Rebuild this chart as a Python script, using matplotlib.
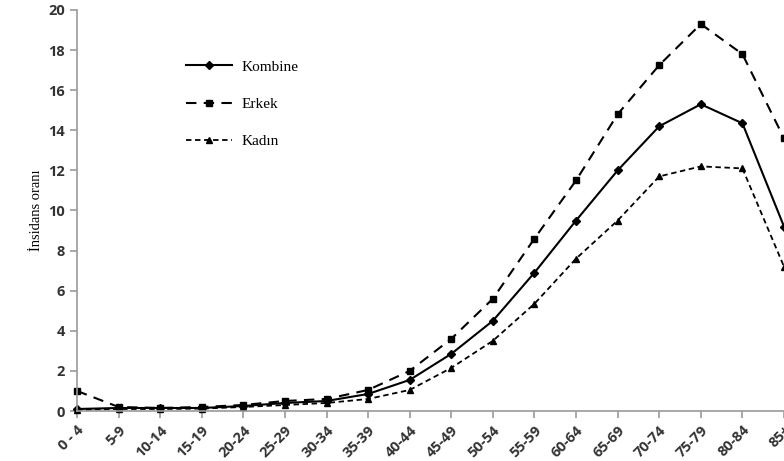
import matplotlib
matplotlib.use("Agg")
import matplotlib.pyplot as plt

age_groups = ["0 - 4", "5-9", "10-14", "15-19", "20-24", "25-29", "30-34", "35-39",
              "40-44", "45-49", "50-54", "55-59", "60-64", "65-69", "70-74", "75-79",
              "80-84", "85+"]
kombine = [0.1, 0.15, 0.15, 0.15, 0.25, 0.4, 0.5, 0.85, 1.55, 2.85, 4.5, 6.9,
           9.5, 12.0, 14.2, 15.3, 14.35, 9.2]
erkek = [1.0, 0.2, 0.15, 0.2, 0.3, 0.5, 0.6, 1.05, 2.0, 3.6, 5.6, 8.6,
         11.5, 14.8, 17.25, 19.3, 17.8, 13.6]
kadin = [0.05, 0.1, 0.1, 0.12, 0.2, 0.3, 0.4, 0.6, 1.05, 2.15, 3.5, 5.35,
         7.6, 9.5, 11.7, 12.2, 12.1, 7.2]

fig = plt.figure(figsize=(7.84, 4.61), dpi=100)
ax = fig.add_axes([77 / 784, 50 / 461, 707 / 784, 401 / 461])

x = list(range(len(age_groups)))
ax.plot(x, kombine, color="black", lw=1.5, marker="D", ms=4, label="Kombine", clip_on=False)
ax.plot(x, erkek, color="black", lw=1.5, ls=(0, (5, 3.5)), marker="s", ms=5, label="Erkek", clip_on=False)
ax.plot(x, kadin, color="black", lw=1.3, ls=(0, (3, 2)), marker="^", ms=5, label="Kadın", clip_on=False)

ax.set_xlim(0, 17)
ax.set_ylim(0, 20)
ax.set_yticks(range(0, 21, 2))
ax.set_xticks(x)
ax.set_xticklabels(age_groups, rotation=45, ha="right", rotation_mode="anchor")

for s in ["top", "right"]:
    ax.spines[s].set_visible(False)
for s in ["left", "bottom"]:
    ax.spines[s].set_color("#999999")
    ax.spines[s].set_linewidth(1.2)
ax.tick_params(axis="both", direction="out", length=5, color="#999999", width=1.2,
               labelsize=10.5, labelcolor="#333333")
for lab in ax.get_xticklabels() + ax.get_yticklabels():
    lab.set_fontweight("bold")
    lab.set_family("Open Sans")

ax.set_ylabel("İnsidans oranı", family="Liberation Serif", fontsize=10.5, labelpad=4)

leg = ax.legend(loc="upper left", bbox_to_anchor=(0.135, 0.91), frameon=False,
                prop={"family": "Liberation Serif", "size": 11},
                handlelength=3.0, handletextpad=0.6, labelspacing=1.55)

fig.savefig("out.png", dpi=100)
